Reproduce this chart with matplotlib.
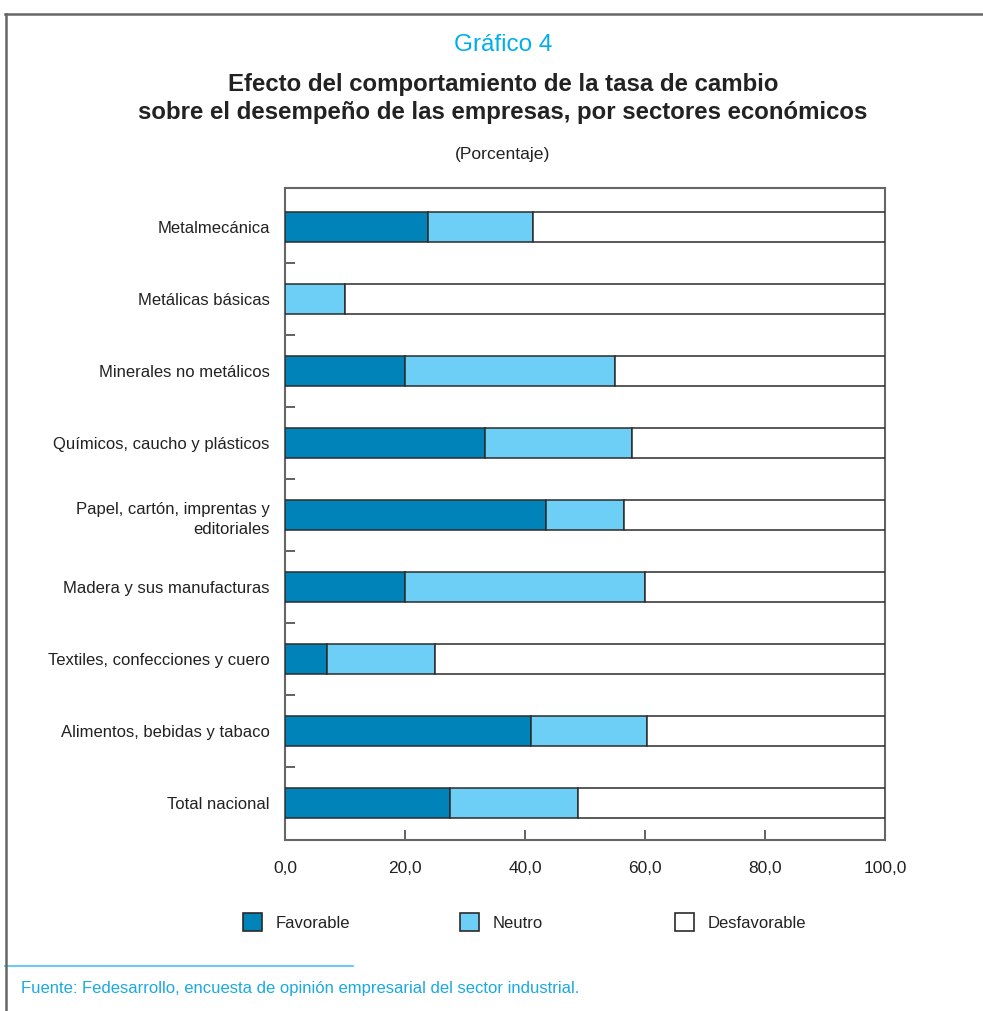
import matplotlib
matplotlib.use("Agg")
import matplotlib.pyplot as plt
from matplotlib.patches import Patch
from matplotlib.lines import Line2D
import numpy as np

plt.rcParams['font.family'] = ['Liberation Sans Narrow', 'Liberation Sans', 'DejaVu Sans']

categories = ["Total nacional", "Alimentos, bebidas y tabaco", "Textiles, confecciones y cuero",
              "Madera y sus manufacturas", "Papel, cartón, imprentas y\neditoriales",
              "Químicos, caucho y plásticos", "Minerales no metálicos", "Metálicas básicas",
              "Metalmecánica"]
favorable = [27.5, 41.0, 7.0, 20.0, 43.5, 33.3, 20.0, 0.0, 23.8]
neutro = [21.3, 19.3, 18.0, 40.0, 13.0, 24.6, 35.0, 10.0, 17.5]
desfavorable = [100 - f - n for f, n in zip(favorable, neutro)]
xticks = [0, 20, 40, 60, 80, 100]
xticklabels = ["0,0", "20,0", "40,0", "60,0", "80,0", "100,0"]
series_names = ["Favorable", "Neutro", "Desfavorable"]
colors = ["#0083B8", "#6DCFF6", "#FFFFFF"]

fig = plt.figure(figsize=(9.83, 10.11), dpi=100)
ax = fig.add_axes([285/983, 1-840/1011, 600/983, 652/1011])

y = np.arange(len(categories))
h = 0.42
left = np.zeros(len(categories))
for vals, col in zip([favorable, neutro, desfavorable], colors):
    ax.barh(y, vals, left=left, height=h, color=col, edgecolor="#2b2b2b", linewidth=1.1, zorder=3)
    left = left + np.array(vals)

ax.set_xlim(0, 100)
ax.set_ylim(-0.51, 8.54)
ax.set_xticks(xticks)
ax.set_xticklabels(xticklabels, fontsize=12.5, color="#222222")
ax.tick_params(axis='x', direction='in', length=7, width=1.3, color="#555555", pad=15)
ax.set_yticks(y)
ax.set_yticklabels(categories, fontsize=12, color="#222222", linespacing=1.45)
ax.tick_params(axis='y', which='major', length=0, pad=11)
ax.set_yticks(y[:-1] + 0.5, minor=True)
ax.tick_params(axis='y', which='minor', direction='in', length=7, width=1.3, color="#555555")
for s in ax.spines.values():
    s.set_color("#666666")
    s.set_linewidth(1.5)

# legends
handles = [Patch(facecolor=c, edgecolor="#2b2b2b", linewidth=1.2) for c in colors]
xs = [243/983, 460/983, 675/983]
for hnd, name, xx in zip(handles, series_names, xs):
    fig.legend(handles=[hnd], labels=[name], loc='center left', bbox_to_anchor=(xx, 1-922/1011),
               frameon=False, fontsize=12, handlelength=1.15, handleheight=1.3, handletextpad=0.8,
               borderaxespad=0, borderpad=0, labelcolor="#222222")

# titles
cx = 503/983
fig.text(cx, 1-45/1011, "Gráfico 4", ha='center', va='center', fontsize=17.5, color="#00AEEF")
fig.text(cx, 1-84/1011, "Efecto del comportamiento de la tasa de cambio", ha='center', va='center',
         fontsize=17.3, fontweight='bold', color="#222222")
fig.text(cx, 1-112/1011, "sobre el desempeño de las empresas, por sectores económicos", ha='center',
         va='center', fontsize=17.3, fontweight='bold', color="#222222")
fig.text(cx, 1-154/1011, "(Porcentaje)", ha='center', va='center', fontsize=12.6, color="#222222")

# source
fig.text(21/983, 1-988/1011, "Fuente: Fedesarrollo, encuesta de opinión empresarial del sector industrial.",
         ha='left', va='center', fontsize=12, color="#1BA9E0")
fig.add_artist(Line2D([5/983, 353/983], [1-966/1011, 1-966/1011], color="#5BC8EE", linewidth=1.3))

# outer frame
fig.add_artist(Line2D([5/983, 1.0], [1-13.5/1011, 1-13.5/1011], color="#666666", linewidth=1.8))
fig.add_artist(Line2D([5.5/983, 5.5/983], [0, 1-13.5/1011], color="#666666", linewidth=1.8))

fig.savefig("out.png", dpi=100)
